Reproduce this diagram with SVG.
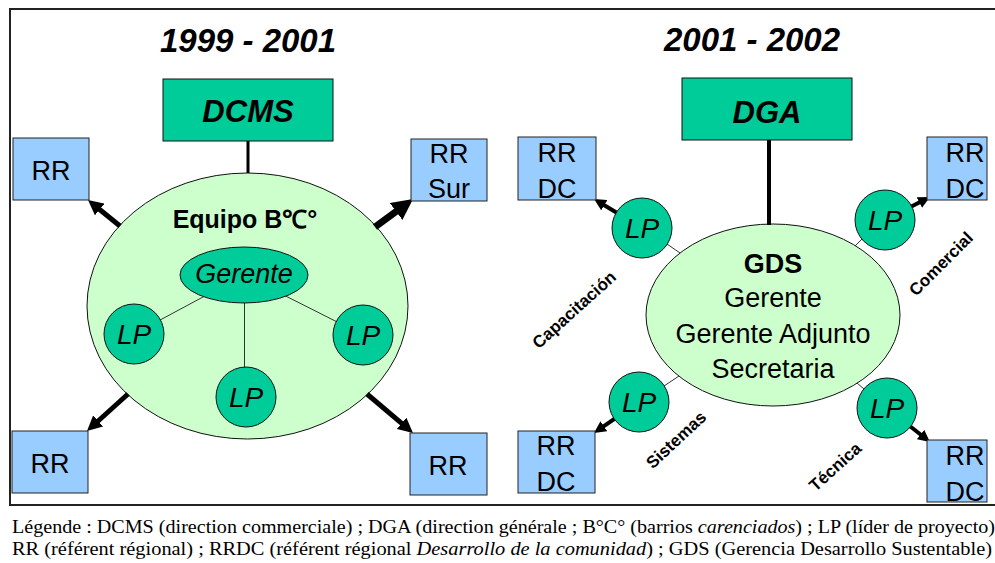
<svg xmlns="http://www.w3.org/2000/svg" width="995" height="563" viewBox="0 0 995 563">
<defs>
<marker id="ah" viewBox="0 0 10 10" refX="4" refY="5" markerWidth="3" markerHeight="3" markerUnits="strokeWidth" orient="auto">
<path d="M0,0 L10,5 L0,10 z" fill="#000"/>
</marker>
<style>
.frame{fill:none;stroke:#222;stroke-width:2}
.head{fill:#00CC99;stroke:#111;stroke-width:1}
.big{fill:#CCFFCC;stroke:#111;stroke-width:1}
.lp{fill:#00CC99;stroke:#111;stroke-width:1}
.rr{fill:#99CCFF;stroke:#222;stroke-width:1}
.t{font-family:"Liberation Sans",Arial,sans-serif;fill:#000;text-anchor:middle}
.title{font-size:33px;font-weight:bold;font-style:italic}
.hd{font-size:31px;font-weight:bold;font-style:italic}
.lbl{font-size:27px}
.lpt{font-size:28px;font-style:italic}
.rot{font-size:17px;font-weight:bold}
.arr{stroke:#000;fill:none;marker-end:url(#ah)}
.thin{stroke:#333;stroke-width:1;fill:none}
.vert{stroke:#000;fill:none}
.leg{font-family:"Liberation Serif","Times New Roman",serif;font-size:18px;fill:#000}
</style>
</defs>
<rect x="0" y="0" width="995" height="563" fill="#fff"/>
<rect class="frame" x="10" y="9" width="1000" height="496"/>

<text class="t title" x="248" y="52">1999 - 2001</text>
<text class="t title" x="752" y="51">2001 - 2002</text>

<g id="equipo">
<ellipse class="big" cx="247.5" cy="306" rx="160.5" ry="133"/>
<text class="t" x="245" y="228" font-size="25" font-weight="bold">Equipo B℃°</text>
</g>
<g id="gds">
<ellipse class="big" cx="773" cy="315" rx="127" ry="91"/>
<text class="t lbl" x="773" y="273" font-weight="bold">GDS</text>
<text class="t lbl" x="773" y="307">Gerente</text>
<text class="t lbl" x="773" y="343">Gerente Adjunto</text>
<text class="t lbl" x="773" y="378">Secretaria</text>
</g>

<g id="connectors">
<line class="vert" x1="248" y1="141" x2="248" y2="173" stroke-width="3"/>
<line class="vert" x1="769" y1="140" x2="769" y2="225" stroke-width="4"/>
<line class="thin" x1="244" y1="275" x2="134" y2="334"/>
<line class="thin" x1="244" y1="275" x2="363" y2="335"/>
<line class="thin" x1="244.5" y1="275" x2="244.5" y2="397"/>
<line class="arr" x1="120" y1="226" x2="95" y2="205.7" stroke-width="5"/>
<line class="arr" x1="375" y1="227" x2="402.9" y2="206.5" stroke-width="7"/>
<line class="arr" x1="128" y1="394" x2="93.7" y2="425" stroke-width="5"/>
<line class="arr" x1="367" y1="394" x2="406.1" y2="427.2" stroke-width="5"/>
<line class="thin" x1="667" y1="244" x2="680" y2="253"/>
<line class="thin" x1="862" y1="239" x2="855" y2="246"/>
<line class="thin" x1="664" y1="386" x2="679" y2="376"/>
<line class="thin" x1="857" y1="383" x2="864" y2="389"/>
<line class="arr" x1="642" y1="228" x2="600.2" y2="202.7" stroke-width="4"/>
<line class="arr" x1="885" y1="220" x2="923.6" y2="200.3" stroke-width="4"/>
<line class="arr" x1="639" y1="402" x2="599.9" y2="428.9" stroke-width="4"/>
<line class="arr" x1="887" y1="408" x2="924.3" y2="437.5" stroke-width="4"/>
</g>

<g id="dcms">
<rect class="head" x="163" y="79" width="170" height="62"/>
<text class="t hd" x="248" y="122">DCMS</text>
</g>
<g id="dga">
<rect class="head" x="682" y="78" width="170" height="62"/>
<text class="t hd" x="767" y="123">DGA</text>
</g>

<g id="gerente">
<ellipse class="lp" cx="244" cy="275" rx="64" ry="28"/>
<text class="t lbl" x="244" y="283" font-style="italic">Gerente</text>
</g>
<g id="lp1"><circle class="lp" cx="134" cy="334" r="30"/><text class="t lpt" x="134" y="344">LP</text></g>
<g id="lp2"><circle class="lp" cx="363" cy="335" r="30"/><text class="t lpt" x="363" y="345">LP</text></g>
<g id="lp3"><circle class="lp" cx="246" cy="397" r="30"/><text class="t lpt" x="246" y="407">LP</text></g>
<g id="lp4"><circle class="lp" cx="642" cy="228" r="30"/><text class="t lpt" x="642" y="238">LP</text></g>
<g id="lp5"><circle class="lp" cx="885" cy="220" r="30"/><text class="t lpt" x="885" y="230">LP</text></g>
<g id="lp6"><circle class="lp" cx="639" cy="402" r="30"/><text class="t lpt" x="639" y="412">LP</text></g>
<g id="lp7"><circle class="lp" cx="887" cy="408" r="30"/><text class="t lpt" x="887" y="418">LP</text></g>

<g id="rr1"><rect class="rr" x="13" y="138" width="76" height="62"/><text class="t lbl" x="51" y="180">RR</text></g>
<g id="rr2"><rect class="rr" x="411" y="139" width="76" height="62"/><text class="t lbl" x="449" y="163">RR</text><text class="t lbl" x="449" y="198">Sur</text></g>
<g id="rr3"><rect class="rr" x="12" y="431" width="76" height="62"/><text class="t lbl" x="50" y="473">RR</text></g>
<g id="rr4"><rect class="rr" x="410" y="433" width="77" height="62"/><text class="t lbl" x="448" y="475">RR</text></g>
<g id="rrdc1"><rect class="rr" x="518" y="137" width="78" height="63"/><text class="t lbl" x="557" y="162">RR</text><text class="t lbl" x="557" y="198">DC</text></g>
<g id="rrdc2"><rect class="rr" x="927" y="137" width="60" height="63"/><text class="t lbl" x="965" y="162">RR</text><text class="t lbl" x="965" y="198">DC</text></g>
<g id="rrdc3"><rect class="rr" x="518" y="431" width="77" height="62"/><text class="t lbl" x="556" y="455">RR</text><text class="t lbl" x="556" y="491">DC</text></g>
<g id="rrdc4"><rect class="rr" x="927" y="440" width="60" height="62"/><text class="t lbl" x="965" y="465">RR</text><text class="t lbl" x="965" y="501">DC</text></g>

<text class="t rot" transform="translate(578,314) rotate(-42)">Capacitación</text>
<text class="t rot" transform="translate(945,268) rotate(-45)">Comercial</text>
<text class="t rot" transform="translate(680,444) rotate(-43)">Sistemas</text>
<text class="t rot" transform="translate(839,471) rotate(-42)">Técnica</text>

<text class="leg" x="12" y="533" textLength="983" lengthAdjust="spacingAndGlyphs">Légende : DCMS (direction commerciale) ; DGA (direction générale ; B°C° (barrios <tspan font-style="italic">carenciados</tspan>) ; LP (líder de proyecto)</text>
<text class="leg" x="12" y="555" textLength="980" lengthAdjust="spacingAndGlyphs">RR (référent régional) ; RRDC (référent régional <tspan font-style="italic">Desarrollo de la comunidad</tspan>) ; GDS (Gerencia Desarrollo Sustentable)</text>
</svg>
